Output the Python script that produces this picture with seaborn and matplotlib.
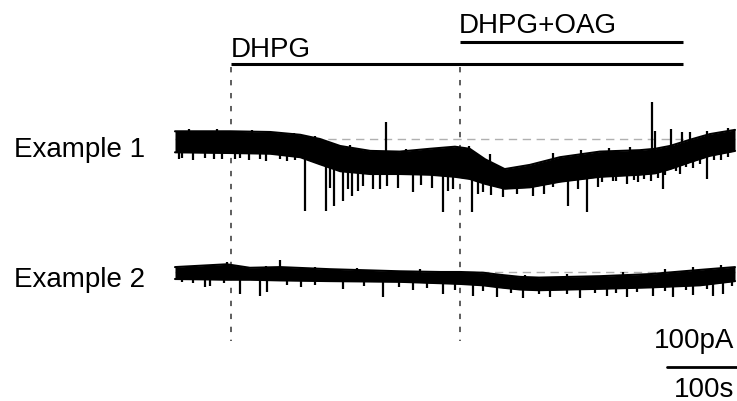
import numpy as np
import pandas as pd
import matplotlib
matplotlib.use('Agg')
import matplotlib.pyplot as plt
import seaborn as sns

sns.set_style('white')
plt.rcParams['font.family'] = ['Liberation Sans', 'DejaVu Sans']
plt.rcParams['text.color'] = 'black'

# ---- data (time in s, current in pA relative to each trace's baseline) ----
# Example 1 band: upper / lower envelope
t1 = [0, 79, 136, 179, 207, 236, 279, 321, 364, 400, 421, 443, 471, 507,
      550, 607, 664, 686, 707, 736, 764, 800]
top1 = [11, 11, 10, 6, 0, -10, -17, -18, -14, -11, -14, -29, -43, -37,
        -26, -18, -16, -14, -10, -1, 7, 13]
bot1 = [-19, -20, -21, -26, -36, -46, -50, -50, -51, -54, -57, -64, -71, -69,
        -61, -54, -51, -49, -43, -33, -24, -17]
# Example 1 events (time, tip): large events, then small fringe deflections
spk1_t = [186, 216, 221, 227, 240, 247, 253, 261, 269, 283, 293, 303, 318,
          340, 352, 367, 383, 390, 397, 424, 433, 440, 452, 469, 488, 511,
          527, 540, 561, 576, 589, 604, 626, 646, 662, 680, 697, 722, 740,
          760, 780,
          301, 681, 686, 709, 724, 736,
          5, 10, 25, 43, 55, 67, 85, 93, 105, 122, 130, 150, 160, 172, 195,
          610, 630, 655, 670, 690, 700, 715, 730, 750, 770, 790,
          20, 60, 110, 170, 200, 250, 330, 420, 450, 540, 580, 620, 650,
          760, 790]
spk1_v = [-103, -103, -70, -96, -89, -72, -81, -74, -67, -72, -71, -67, -70,
          -76, -66, -70, -104, -74, -71, -104, -78, -76, -80, -83, -79, -81,
          -78, -69, -96, -72, -104, -68, -60, -64, -62, -60, -71, -50, -42,
          -57, -30,
          24, 53, 11, 14, 10, 10,
          -29, -27, -30, -27, -28, -29, -28, -27, -30, -29, -31, -28, -32,
          -30, -33,
          -62, -60, -58, -57, -55, -52, -46, -40, -35, -30, -25,
          14, 14, 13, 9, 4, -8, -14, -10, -22, -20, -15, -13, -11, 11, 16]

# Example 2 band
t2 = [0, 74, 107, 150, 221, 321, 379, 407, 440, 464, 493, 520, 607, 679,
      750, 800]
top2 = [7, 11, 6, 7, 4, 1, 0, 0, -1, -4, -7, -8, -6, -3, 3, 7]
bot2 = [-10, -11, -11, -12, -13, -14, -16, -17, -19, -22, -25, -26, -24,
        -22, -19, -13]
spk2_t = [43, 50, 93, 121, 131, 180, 240, 297, 340, 383, 426, 460, 497, 536,
          579, 617, 646, 683, 711, 740, 769, 783,
          150, 74,
          10, 25, 70, 160, 200, 270, 320, 360, 400, 440, 480, 520, 560, 600,
          630, 660, 700, 730, 760, 795,
          30, 90, 130, 200, 260, 350, 500, 560, 640, 700, 740, 780]
spk2_v = [-21, -20, -31, -34, -29, -22, -24, -36, -25, -31, -34, -36, -37,
          -36, -37, -34, -36, -34, -36, -33, -34, -31,
          17, 14,
          -14, -15, -16, -18, -19, -20, -22, -23, -25, -27, -30, -32, -31,
          -30, -30, -29, -27, -26, -24, -20,
          10, 9, 9, 7, 6, 4, -4, -3, 0, 5, 7, 10]

drug_on = [80, 407]          # DHPG, DHPG+OAG
drug_off = 726
drug_names = ['DHPG', 'DHPG+OAG']
trace_names = ['Example 1', 'Example 2']

# ---- layout: 0.7 px per s and per pA, t=0 at x=175 px ----
S = 0.7
W, H = 737, 402
X0 = 175
def Y(py):
    return -py / S
def X(px):
    return (px - X0) / S

off = [Y(140), Y(273)]      # trace baselines
name_y = [157, 287]
FS = 20

fig = plt.figure(figsize=(W / 100, H / 100), dpi=100)
ax = fig.add_axes([0, 0, 1, 1])
ax.set_xlim(X(0), X(W))
ax.set_ylim(Y(H), 0)
ax.axis('off')

traces = [(t1, top1, bot1, spk1_t, spk1_v), (t2, top2, bot2, spk2_t, spk2_v)]
for i, (t, top, bot, st, sv) in enumerate(traces):
    o = off[i]
    # gray dashed baseline
    ax.plot([0, 800], [o, o], color='#b0b0b0', lw=1, ls=(0, (6, 4)), zorder=1)
    up = np.array(top) + o
    lo = np.array(bot) + o
    ax.fill_between(t, lo, up, color='black', lw=0, zorder=3)
    df = pd.DataFrame({'t': t, 'up': up, 'lo': lo})
    sns.lineplot(data=df, x='t', y='up', color='black', lw=1.5, ax=ax, zorder=3)
    sns.lineplot(data=df, x='t', y='lo', color='black', lw=1.5, ax=ax, zorder=3)
    mid = (np.interp(st, t, top) + np.interp(st, t, bot)) / 2 + o
    ax.vlines(st, mid, np.array(sv) + o, color='black', lw=1.6, zorder=3)
    ax.text(X(14), Y(name_y[i]), trace_names[i], fontsize=FS, ha='left',
            va='baseline', color='black')

# drug bars and vertical markers
bar_y = [65, 43]
lab_y = [57, 33]
for i, t_on in enumerate(drug_on):
    ax.plot([t_on, drug_off], [Y(bar_y[i]), Y(bar_y[i])], color='black', lw=2.2,
            solid_capstyle='butt')
    ax.text(t_on - 1, Y(lab_y[i]), drug_names[i], fontsize=FS, ha='left',
            va='baseline', color='black')
    ax.plot([t_on, t_on], [Y(68), Y(342)], color='#333333', lw=1.1,
            ls=(0, (3.5, 5)), zorder=2)

# scale bar
ax.plot([X(667), X(737)], [Y(368), Y(368)], color='black', lw=2)
ax.text(X(734), Y(348), '100pA', fontsize=FS, ha='right', va='baseline',
        color='black')
ax.text(X(734), Y(397), '100s', fontsize=FS, ha='right', va='baseline',
        color='black')

fig.savefig('out.png', dpi=100)
